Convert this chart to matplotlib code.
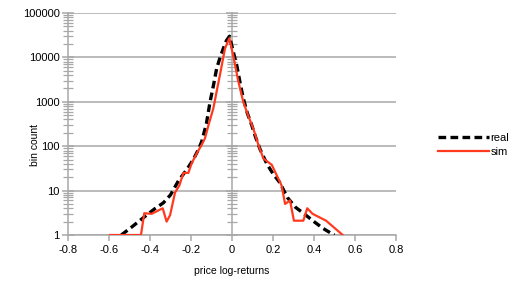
import matplotlib
matplotlib.use("Agg")
import matplotlib.pyplot as plt
from matplotlib.ticker import LogLocator, FixedLocator, FuncFormatter, NullFormatter

plt.rcParams['font.family'] = ['Liberation Sans', 'DejaVu Sans']

real_x = [-0.54, -0.49, -0.43, -0.38, -0.335, -0.30, -0.26, -0.22, -0.19, -0.165,
          -0.148, -0.125, -0.107, -0.09, -0.075, -0.058, -0.042, -0.027, -0.012,
          0.005, 0.023, 0.04, 0.055, 0.075, 0.096, 0.115, 0.137, 0.17, 0.20,
          0.234, 0.27, 0.31, 0.348, 0.40, 0.445, 0.49, 0.50]
real_y = [1, 1.5, 2.5, 3.8, 5.3, 8, 17, 30, 49, 82,
          126, 320, 1000, 2400, 5600, 10000, 16000, 24000, 30000,
          14000, 6700, 2600, 1200, 550, 300, 160, 85, 40, 24,
          15, 7, 4.2, 3.1, 2, 1.4, 1.05, 1]

sim_x = [-0.595, -0.444, -0.428, -0.392, -0.338, -0.319, -0.302, -0.278, -0.257,
         -0.237, -0.213, -0.197, -0.172, -0.148, -0.132, -0.112, -0.091, -0.075,
         -0.059, -0.034, -0.013, 0.006, 0.03, 0.055, 0.08, 0.104, 0.128, 0.153,
         0.194, 0.242, 0.259, 0.283, 0.302, 0.348, 0.367, 0.393, 0.459, 0.54]
sim_y = [1, 1, 3.1, 3, 4, 2, 2.8, 9, 13,
         25, 25, 41, 69, 107, 150, 330, 710, 1700,
         4000, 16000, 27000, 11000, 3000, 1000, 470, 250, 110, 53,
         38, 13, 5, 6, 2.1, 2.1, 4, 3, 2.1, 1]

x_ticks = [-0.8, -0.6, -0.4, -0.2, 0, 0.2, 0.4, 0.6, 0.8]
series_names = ["real", "sim"]

grey = '#a8a8a8'
fig = plt.figure(figsize=(5.17, 2.91), dpi=100)
ax = fig.add_axes([68/517, 1-235/291, (396-68)/517, (235-13)/291])

ax.set_xlim(-0.8, 0.8)
ax.set_yscale('log')
ax.set_ylim(1, 100000)

ax.plot(real_x, real_y, color='black', lw=2.4, dashes=(2.3, 1.3), label=series_names[0], zorder=3)
ax.plot(sim_x, sim_y, color='#ff3a1f', lw=1.6, label=series_names[1], zorder=4)

ax.grid(axis='y', which='major', color=grey, lw=1.1)
ax.set_axisbelow(True)

ax.spines['top'].set_visible(False)
ax.spines['right'].set_position(('data', 0))
for s in ['left', 'right', 'bottom']:
    ax.spines[s].set_color(grey)
    ax.spines[s].set_linewidth(1.1)

ax.yaxis.set_major_locator(LogLocator(base=10, numticks=10))
ax.yaxis.set_minor_locator(LogLocator(base=10, subs=range(2, 10), numticks=20))
ax.yaxis.set_minor_formatter(NullFormatter())
ax.yaxis.set_major_formatter(FuncFormatter(lambda v, p: f"{v:.0f}"))
ax.yaxis.set_ticks_position('both')
ax.tick_params(axis='y', which='major', direction='inout', length=8, color=grey, width=1.1,
               labelsize=8, pad=2, labelright=False, labelleft=True)
ax.tick_params(axis='y', which='minor', direction='inout', length=7, color=grey, width=0.9)

ax.xaxis.set_major_locator(FixedLocator(x_ticks))
ax.xaxis.set_major_formatter(FuncFormatter(lambda v, p: f"{v:g}" if abs(v) > 1e-9 else "0"))
ax.tick_params(axis='x', which='major', direction='out', length=4, color=grey, width=1.1,
               labelsize=8, pad=3)

ax.set_xlabel("price log-returns", fontsize=7.5, labelpad=8)
ax.set_ylabel("bin count", fontsize=7.5)
ax.yaxis.set_label_coords(35/517, 0.5, transform=fig.transFigure)
ax.yaxis.label.set_verticalalignment('center')

ax.legend(loc='center left', bbox_to_anchor=(432/517, 1-145/291), bbox_transform=fig.transFigure,
          frameon=False, fontsize=8, handlelength=4.6, handletextpad=0.15, borderpad=0,
          labelspacing=0.3)

fig.savefig("out.png", dpi=100)
